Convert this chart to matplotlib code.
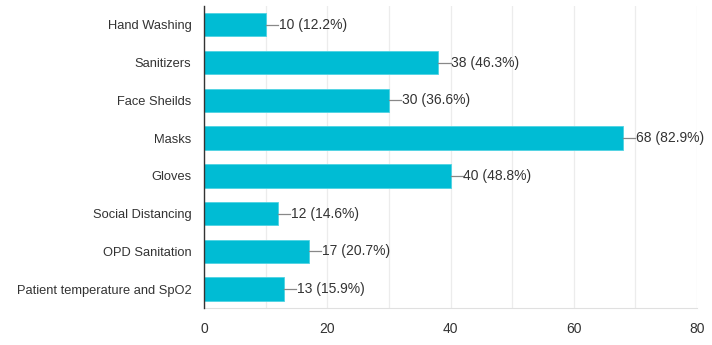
import matplotlib
matplotlib.use("Agg")
import matplotlib.pyplot as plt
from matplotlib import font_manager

categories = ["Hand Washing", "Sanitizers", "Face Sheilds", "Masks", "Gloves",
              "Social Distancing", "OPD Sanitation", "Patient temperature and SpO2"]
counts = [10, 38, 30, 68, 40, 12, 17, 13]
percents = [12.2, 46.3, 36.6, 82.9, 48.8, 14.6, 20.7, 15.9]
xticks = [0, 20, 40, 60, 80]

names = {f.name for f in font_manager.fontManager.ttflist}
family = ["Liberation Sans Narrow", "Liberation Sans", "DejaVu Sans"]
plt.rcParams["font.family"] = [f for f in family if f in names] or ["DejaVu Sans"]

BAR = "#00bcd4"
TEXT = "#333333"

fig = plt.figure(figsize=(7.12, 3.45), dpi=100)
ax = fig.add_axes([0.2865, 0.107, 0.6925, 0.876])

y = list(range(len(categories)))
ax.barh(y, counts, height=0.62, color=BAR, edgecolor="#4fd3e3", linewidth=0.6, zorder=3)

# leader line + value label at the end of each bar
for yi, c, p in zip(y, counts, percents):
    ax.plot([c, c + 2.0], [yi, yi], color="#888888", linewidth=0.9, zorder=3)
    ax.text(c + 2.1, yi, f"{c} ({p}%)", va="center", ha="left",
            fontsize=10, color=TEXT, zorder=4)

ax.set_ylim(len(categories) - 0.5, -0.5)
ax.set_xlim(0, 80)
ax.set_yticks(y)
ax.set_yticklabels(categories, fontsize=9.3, color=TEXT)
ax.set_xticks(xticks)
ax.set_xticklabels([str(t) for t in xticks], fontsize=10, color=TEXT)
ax.set_xticks(range(10, 80, 20), minor=True)
ax.grid(axis="x", which="both", color="#ececec", linewidth=0.9, zorder=0)

for s in ("top", "right"):
    ax.spines[s].set_visible(False)
ax.spines["left"].set_color("#333333")
ax.spines["left"].set_linewidth(1.0)
ax.spines["left"].set_zorder(5)
ax.spines["bottom"].set_color("#e0e0e0")
ax.tick_params(axis="both", which="both", length=0)
ax.tick_params(axis="x", pad=10)
ax.tick_params(axis="y", pad=9)

fig.savefig("out.png", dpi=100, facecolor="white")
